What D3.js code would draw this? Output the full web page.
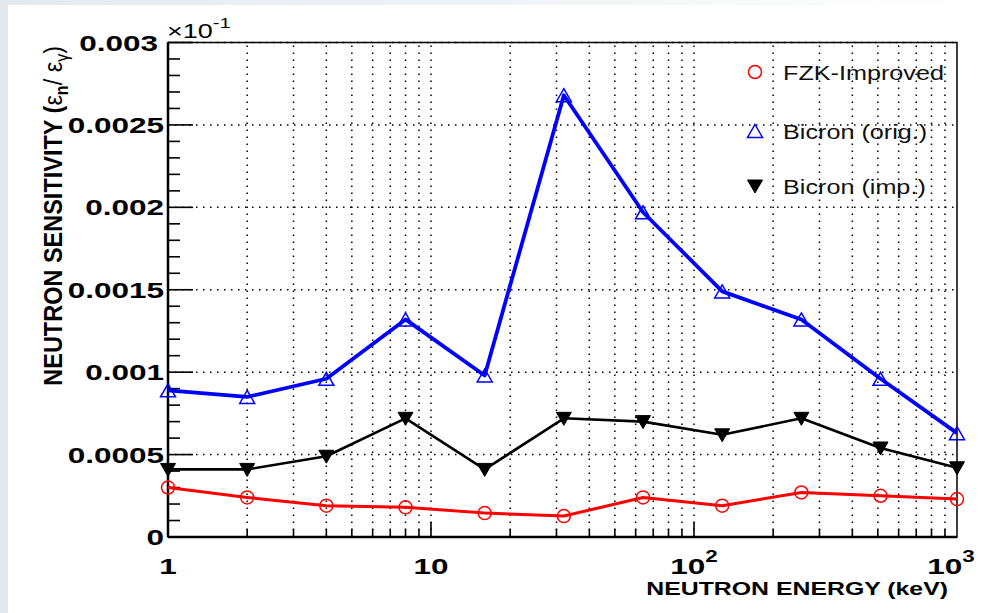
<!DOCTYPE html>
<html>
<head>
<meta charset="utf-8">
<script src="https://cdn.jsdelivr.net/npm/d3@7"></script>
<style>
  body { margin: 0; background: #fff; }
  svg { display: block; font-family: "Liberation Sans", Arial, Helvetica, sans-serif; }
</style>
</head>
<body>
<div id="chart"></div>
<script>
// neutron energy (keV)
const energy = [1, 2, 4, 8, 16, 32, 64, 128, 256, 512, 1000];
// sensitivity values per detector
const fzkImproved = [0.00030, 0.00024, 0.00019, 0.00018, 0.000145, 0.000127, 0.00024, 0.00019, 0.00027, 0.00025, 0.00023];
const bicronOrig = [0.00089, 0.00085, 0.00096, 0.00132, 0.00098, 0.00268, 0.00197, 0.00149, 0.00132, 0.00096, 0.00063];
const bicronImp = [0.00041, 0.00041, 0.00049, 0.00072, 0.00041, 0.00072, 0.00070, 0.00062, 0.00072, 0.00054, 0.00042];

const yTicks = [0, 0.0005, 0.001, 0.0015, 0.002, 0.0025, 0.003];
const yTickLabels = ["0", "0.0005", "0.001", "0.0015", "0.002", "0.0025", "0.003"];
const xMajor = [1, 10, 100, 1000];
const xMajorLabels = [["1", ""], ["10", ""], ["10", "2"], ["10", "3"]];
const seriesNames = ["FZK-Improved", "Bicron (orig.)", "Bicron (imp.)"];

const width = 981, height = 613;
const margin = { top: 42.5, right: 24, bottom: 76, left: 168 };

const svg = d3.select("#chart").append("svg")
    .attr("width", width)
    .attr("height", height);

// faint slide-like background at the edges
const grad = svg.append("defs").append("linearGradient")
    .attr("id", "bg").attr("x1", 0).attr("x2", 1);
grad.append("stop").attr("offset", 0).attr("stop-color", "#e3e9ed");
grad.append("stop").attr("offset", 0.6).attr("stop-color", "#f3f5f7");
grad.append("stop").attr("offset", 1).attr("stop-color", "#ffffff");
svg.append("rect").attr("width", width).attr("height", height).attr("fill", "url(#bg)");
svg.append("rect").attr("x", 8).attr("y", 5).attr("width", width - 8).attr("height", height - 5).attr("fill", "#fff");

const x = d3.scaleLog()
    .domain([1, 1000])
    .range([margin.left, width - margin.right]);

const y = d3.scaleLinear()
    .domain([0, 0.003])
    .range([height - margin.bottom, margin.top]);

const x0 = x.range()[0], x1 = x.range()[1];
const y0 = y.range()[0], y1 = y.range()[1];

// minor decades 2..9 per decade
const xMinor = [];
[1, 10, 100].forEach(d => { for (let k = 2; k <= 9; k++) xMinor.push(d * k); });
const yMinor = d3.range(0, 31).map(i => i * 0.0001);

// grid
const grid = svg.append("g")
    .attr("stroke", "#000")
    .attr("stroke-width", 1.5)
    .attr("stroke-dasharray", "1.5 5.5");
grid.selectAll(".vgrid")
    .data(xMinor.concat([10, 100]))
    .enter().append("line")
    .attr("x1", d => x(d)).attr("x2", d => x(d))
    .attr("y1", y0).attr("y2", y1);
grid.selectAll(".hgrid")
    .data(yTicks.slice(1))
    .enter().append("line")
    .attr("x1", x0).attr("x2", x1)
    .attr("y1", d => y(d)).attr("y2", d => y(d));

// frame
svg.append("rect")
    .attr("x", x0).attr("y", y1)
    .attr("width", x1 - x0).attr("height", y0 - y1)
    .attr("fill", "none")
    .attr("stroke", "#000")
    .attr("stroke-width", 1.5);
svg.append("line").attr("x1", x0).attr("x2", x0).attr("y1", y0).attr("y2", y1)
    .attr("stroke", "#000").attr("stroke-width", 2.5);
svg.append("line").attr("x1", x0).attr("x2", x1).attr("y1", y0).attr("y2", y0)
    .attr("stroke", "#000").attr("stroke-width", 2.5);

// ticks
const ticks = svg.append("g").attr("stroke", "#000").attr("stroke-width", 1.6);
ticks.selectAll(".xt")
    .data(xMinor.concat([10, 100]))
    .enter().append("line")
    .attr("x1", d => x(d)).attr("x2", d => x(d))
    .attr("y1", y0)
    .attr("y2", d => y0 - (xMajor.includes(d) ? 15 : 8));
ticks.selectAll(".yt")
    .data(yMinor)
    .enter().append("line")
    .attr("x1", x0)
    .attr("x2", (d, i) => x0 + (i % 5 === 0 ? 25 : 12))
    .attr("y1", d => y(d)).attr("y2", d => y(d));

// tick labels (the source image is stretched horizontally)
const sx = 1.4;
yTicks.forEach((v, i) => {
    const right = v === 0.003 ? 158 : 164;
    svg.append("text")
        .attr("transform", `translate(${right},${y(v) + 8}) scale(${sx},1)`)
        .attr("text-anchor", "end")
        .attr("font-size", 22.5)
        .attr("font-weight", "bold")
        .text(yTickLabels[i]);
});

xMajor.forEach((v, i) => {
    const [base, sup] = xMajorLabels[i];
    const t = svg.append("text")
        .attr("transform", `translate(${x(v) - (v === 1000 ? 6 : 0)},574) scale(${sx},1)`)
        .attr("text-anchor", "middle")
        .attr("font-size", 22.5)
        .attr("font-weight", "bold");
    t.append("tspan").text(base);
    if (sup) t.append("tspan").attr("dy", -12).attr("font-size", 16).text(sup);
});

// exponent label
const ex = svg.append("text")
    .attr("transform", `translate(167,38) scale(1.35,1)`)
    .attr("font-size", 20);
ex.append("tspan").text("\u00d710");
ex.append("tspan").attr("dy", -10).attr("font-size", 15).text("-1");

// axis titles
svg.append("text")
    .attr("transform", `translate(948,595) scale(1.38,1)`)
    .attr("text-anchor", "end")
    .attr("font-size", 18)
    .attr("font-weight", "bold")
    .text("NEUTRON ENERGY (keV)");

const yt = svg.append("text")
    .attr("transform", `translate(62,46) rotate(-90) scale(1,1.1)`)
    .attr("text-anchor", "end")
    .attr("font-size", 23.5)
    .attr("font-weight", "bold");
yt.append("tspan").text("NEUTRON SENSITIVITY (");
yt.append("tspan").attr("font-weight", "normal").text("\u03b5");
yt.append("tspan").attr("dy", 5).attr("font-size", 16).text("n");
yt.append("tspan").attr("dy", -5).attr("font-weight", "normal").text("/ \u03b5");
yt.append("tspan").attr("dy", 5).attr("font-size", 16).attr("font-weight", "normal").text("\u03b3");
yt.append("tspan").attr("dy", -5).attr("font-weight", "normal").text(")");

// marker shapes
const triUp = "M0,-6.5L7.5,6.5L-7.5,6.5Z";
const triDown = "M0,7L7.5,-6L-7.5,-6Z";

const series = [
    { name: seriesNames[0], values: fzkImproved, color: "#ff0000", width: 3, marker: "circle" },
    { name: seriesNames[1], values: bicronOrig, color: "#0000ff", width: 3.8, marker: "triUp" },
    { name: seriesNames[2], values: bicronImp, color: "#000000", width: 2.6, marker: "triDown" }
];

const line = d3.line()
    .x(d => x(d[0]))
    .y(d => y(d[1]));

function drawMarker(g, type, color) {
    if (type === "circle") {
        g.append("circle").attr("r", 6.5)
            .attr("fill", "none").attr("stroke", color).attr("stroke-width", 1.5);
    } else if (type === "triUp") {
        g.append("path").attr("d", triUp)
            .attr("fill", "none").attr("stroke", color).attr("stroke-width", 1.5);
    } else {
        g.append("path").attr("d", triDown)
            .attr("fill", color).attr("stroke", color).attr("stroke-width", 1);
    }
}

series.forEach(s => {
    const pts = energy.map((e, i) => [e, s.values[i]]);
    svg.append("path")
        .datum(pts)
        .attr("fill", "none")
        .attr("stroke", s.color)
        .attr("stroke-width", s.width)
        .attr("stroke-linejoin", "round")
        .attr("d", line);
    pts.forEach(p => {
        const g = svg.append("g").attr("transform", `translate(${x(p[0])},${y(p[1])})`);
        drawMarker(g, s.marker, s.color);
    });
});

// legend
const legendY = [72, 131, 186];
series.forEach((s, i) => {
    const g = svg.append("g").attr("transform", `translate(755,${legendY[i]})`);
    drawMarker(g, s.marker, s.color);
    svg.append("text")
        .attr("transform", `translate(783,${legendY[i] + 7.5}) scale(1.2,1)`)
        .attr("font-size", 21)
        .attr("fill", "#111")
        .text(s.name);
});
</script>
</body>
</html>
